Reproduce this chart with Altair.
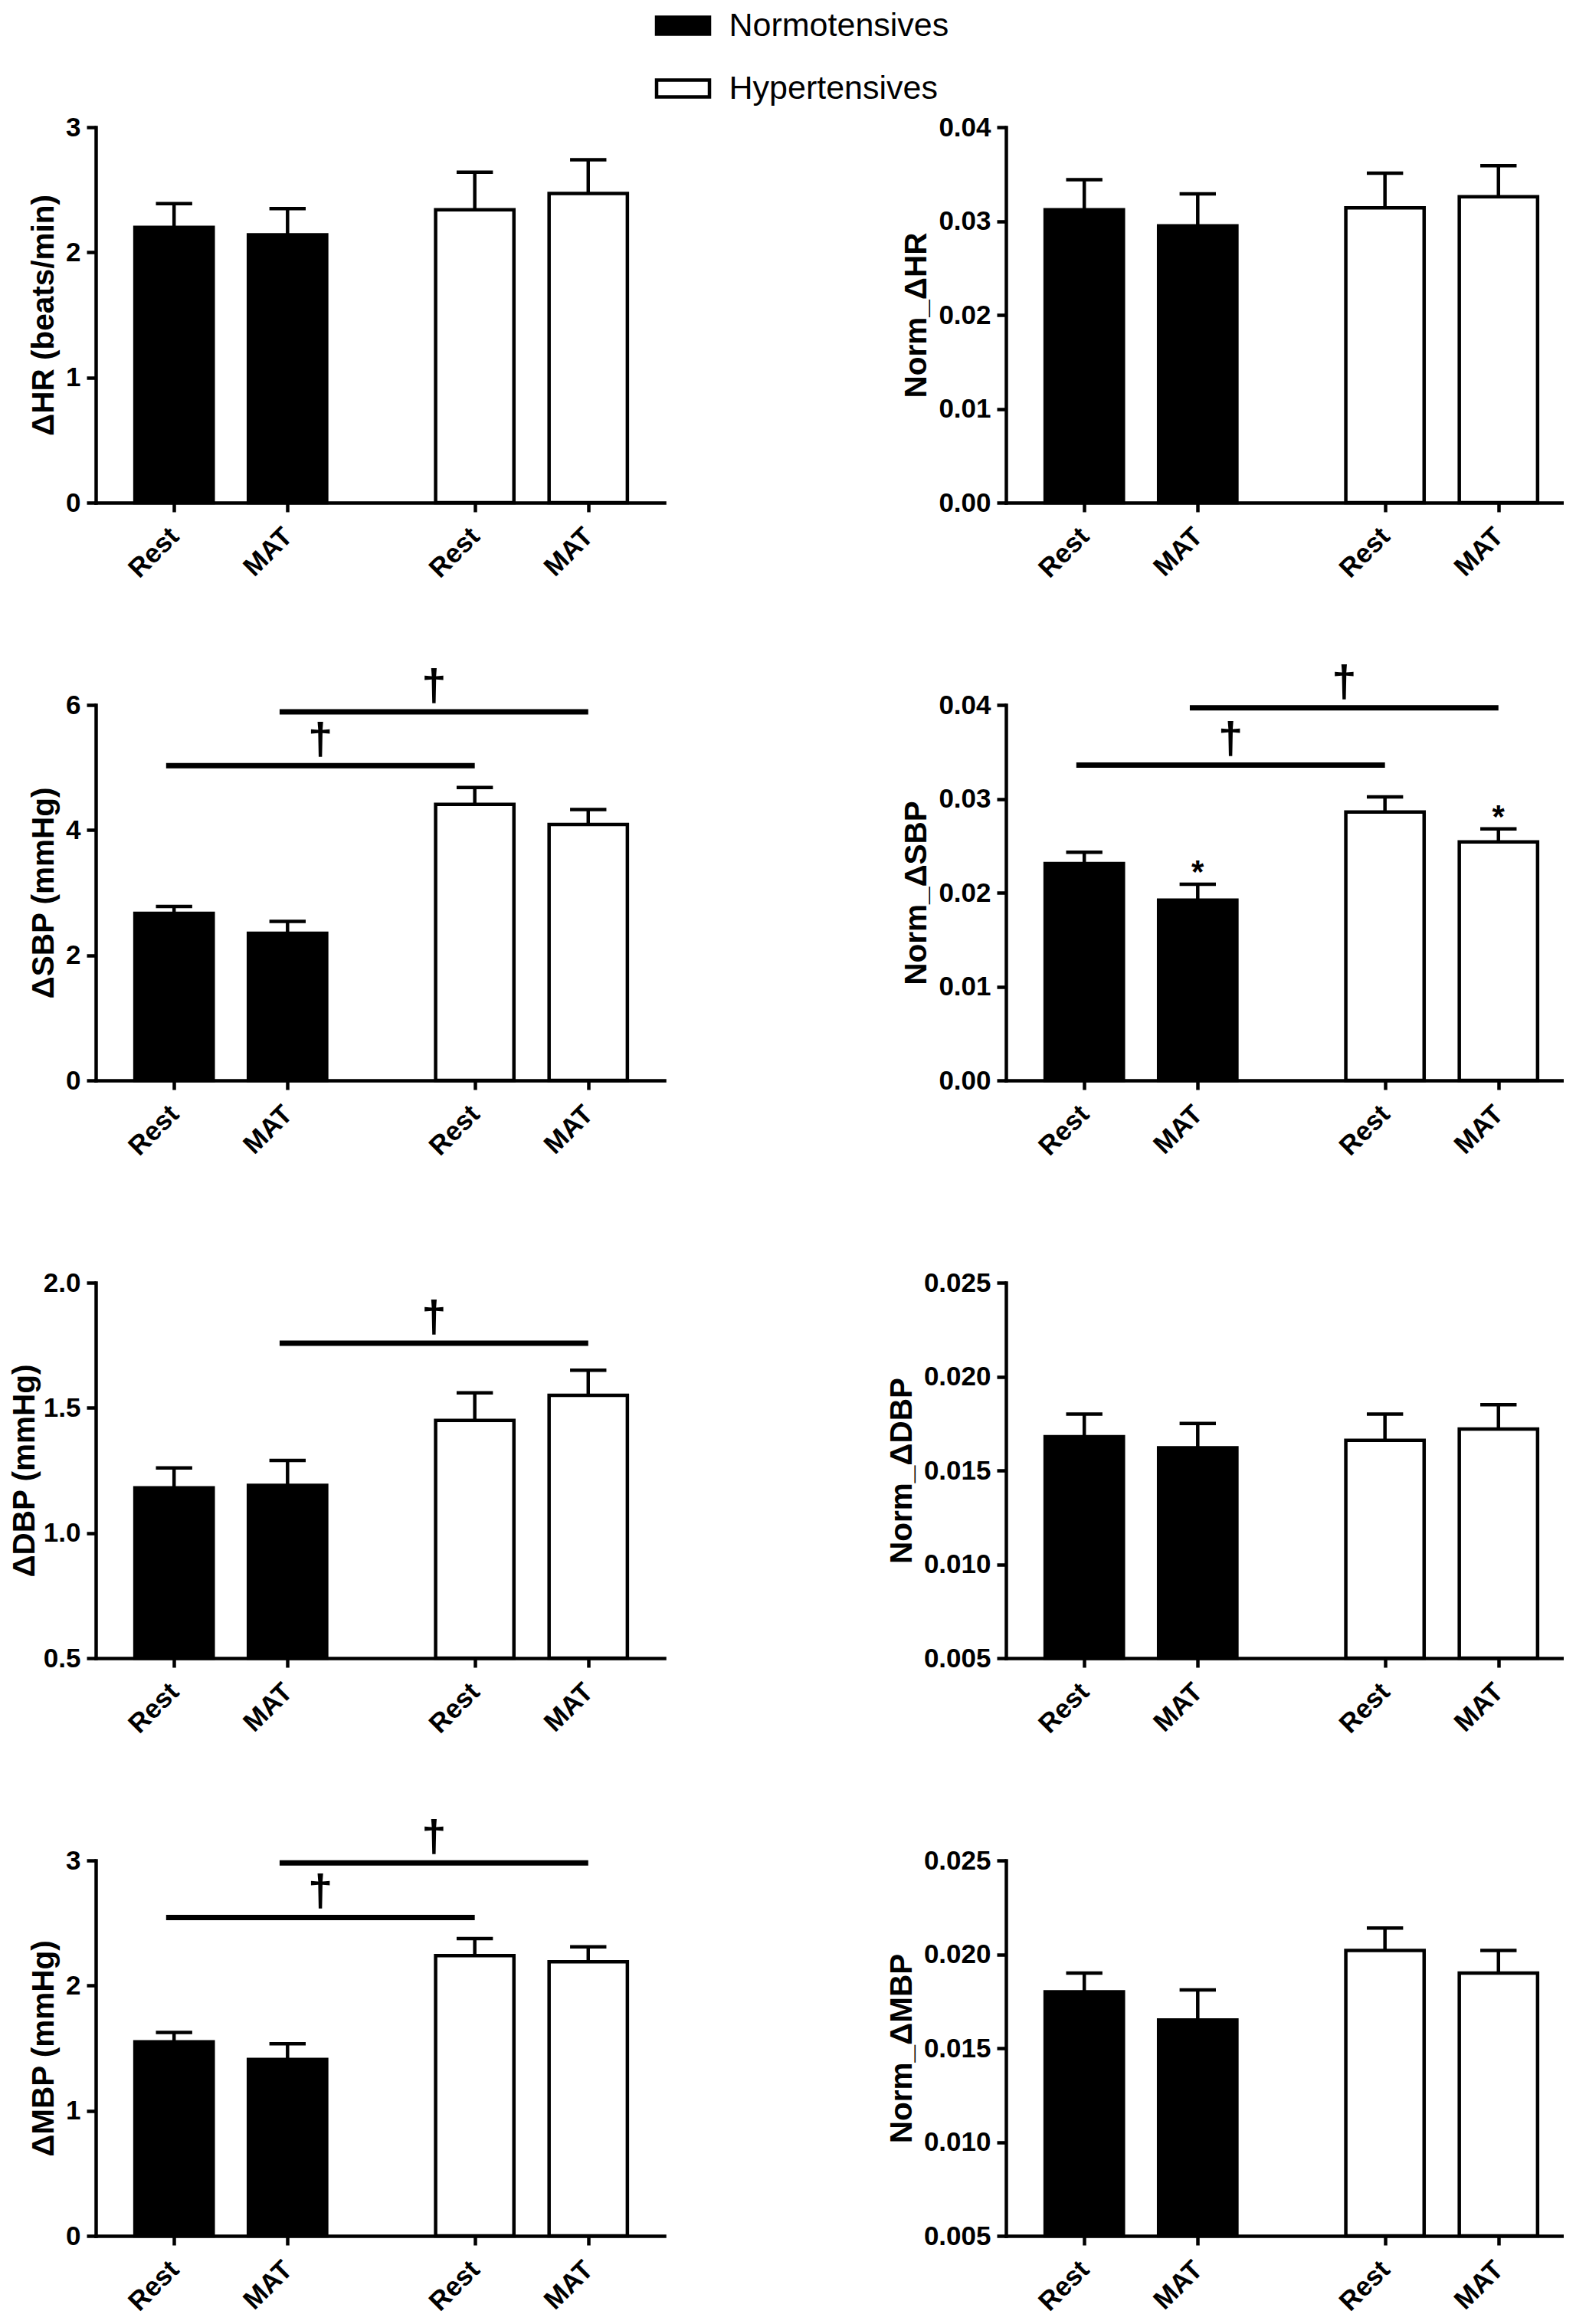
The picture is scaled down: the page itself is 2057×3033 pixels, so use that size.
import altair as alt
import pandas as pd

FONT = "Liberation Sans, Arial, Helvetica, sans-serif"

# ---- data -------------------------------------------------------------
groups = ["Normotensives", "Normotensives", "Hypertensives", "Hypertensives"]
conditions = ["Rest", "MAT", "Rest", "MAT"]

panel_titles = ["ΔHR (beats/min)", "Norm_ΔHR", "ΔSBP (mmHg)", "Norm_ΔSBP",
                "ΔDBP (mmHg)", "Norm_ΔDBP", "ΔMBP (mmHg)", "Norm_ΔMBP"]
y_domains = [[0, 3], [0, 0.04], [0, 6], [0, 0.04],
             [0.5, 2.0], [0.005, 0.025], [0, 3], [0.005, 0.025]]
y_ticks = [[0, 1, 2, 3],
           [0, 0.01, 0.02, 0.03, 0.04],
           [0, 2, 4, 6],
           [0, 0.01, 0.02, 0.03, 0.04],
           [0.5, 1.0, 1.5, 2.0],
           [0.005, 0.010, 0.015, 0.020, 0.025],
           [0, 1, 2, 3],
           [0.005, 0.010, 0.015, 0.020, 0.025]]
y_formats = ["d", ".2f", "d", ".2f", ".1f", ".3f", "d", ".3f"]

means = [
    [2.20, 2.14, 2.34, 2.47],
    [0.0312, 0.0295, 0.0314, 0.0326],
    [2.67, 2.35, 4.41, 4.09],
    [0.0231, 0.0192, 0.0286, 0.0254],
    [1.18, 1.19, 1.45, 1.55],
    [0.0168, 0.0162, 0.0166, 0.0172],
    [1.55, 1.41, 2.24, 2.19],
    [0.0180, 0.0165, 0.0202, 0.0190],
]
sems = [
    [0.19, 0.21, 0.30, 0.27],
    [0.0032, 0.0034, 0.0037, 0.0033],
    [0.11, 0.19, 0.27, 0.24],
    [0.0012, 0.0017, 0.0016, 0.0014],
    [0.08, 0.10, 0.11, 0.10],
    [0.0012, 0.0013, 0.0014, 0.0013],
    [0.075, 0.125, 0.135, 0.12],
    [0.0010, 0.0016, 0.0012, 0.0012],
]

# significance brackets: panel index, from bar, to bar, height
bracket_panel = [2, 2, 3, 3, 4, 6, 6]
bracket_from = [0, 1, 0, 1, 1, 0, 1]
bracket_to = [2, 3, 2, 3, 3, 2, 3]
bracket_y = [5.03, 5.89, 0.0336, 0.0397, 1.758, 2.544, 2.98]

# asterisks: panel index, bar index
star_panel = [3, 3]
star_bar = [1, 3]

# ---- layout helpers (positions of bars along the x axis) ---------------
bar_pos = [0.69, 1.69, 3.34, 4.34]
x_max = 5.01
half_bar = 0.345
half_cap = 0.16
overhang = 0.07
LW = 4.5
title_pad = [7, 7, 7, 7, 3, 7, 7, 7]

label_expr = ("[" + ",".join("'%s'" % c for c in conditions) + "][indexof(["
              + ",".join(str(p) for p in bar_pos) + "], datum.value)]")

fill_scale = alt.Scale(domain=["Normotensives", "Hypertensives"], range=["black", "white"])
legend = alt.Legend(
    title=None, orient="none", legendX=745, legendY=-154, direction="vertical",
    symbolType="M-2.875,-0.917H2.875V0.917H-2.875Z", symbolSize=576,
    symbolStrokeColor="black", symbolStrokeWidth=LW, symbolOpacity=1,
    labelFont=FONT, labelFontSize=43, labelFontWeight="normal", labelColor="black",
    labelOffset=38.5, rowPadding=38, padding=0, labelLimit=0,
)


def make_panel(i):
    lo, hi = y_domains[i]
    df = pd.DataFrame({
        "pos": bar_pos,
        "x1": [p - half_bar for p in bar_pos],
        "x2": [p + half_bar for p in bar_pos],
        "c1": [p - half_cap for p in bar_pos],
        "c2": [p + half_cap for p in bar_pos],
        "group": groups,
        "cond": conditions,
        "mean": means[i],
        "top": [m + s for m, s in zip(means[i], sems[i])],
        "base": [lo] * 4,
    })
    xs = alt.Scale(domain=[0, x_max], nice=False, zero=False)
    ys = alt.Scale(domain=[lo, hi], nice=False, zero=False)
    xaxis = alt.Axis(values=bar_pos, labelExpr=label_expr, title=None, labelOverlap=False)
    yaxis = alt.Axis(values=y_ticks[i], format=y_formats[i], title=panel_titles[i],
                     labelOverlap=False, titlePadding=title_pad[i])
    ttl = panel_titles[i]

    bars = alt.Chart(df).mark_bar(stroke="black", strokeWidth=LW, strokeJoin="miter").encode(
        x=alt.X("x1:Q", scale=xs, axis=xaxis),
        x2="x2:Q",
        y=alt.Y("mean:Q", scale=ys, axis=yaxis),
        y2="base:Q",
        fill=alt.Fill("group:N", scale=fill_scale, legend=legend),
    )
    err = alt.Chart(df).mark_rule(color="black", strokeWidth=LW).encode(
        x=alt.X("pos:Q", scale=xs, title=None),
        y=alt.Y("mean:Q", scale=ys, title=ttl),
        y2="top:Q",
    )
    cap = alt.Chart(df).mark_rule(color="black", strokeWidth=LW).encode(
        x=alt.X("c1:Q", scale=xs, title=None),
        x2="c2:Q",
        y=alt.Y("top:Q", scale=ys, title=ttl),
    )
    layers = [bars, err, cap]

    idx = [k for k, p in enumerate(bracket_panel) if p == i]
    if idx:
        bdf = pd.DataFrame({
            "b1": [bar_pos[bracket_from[k]] - overhang for k in idx],
            "b2": [bar_pos[bracket_to[k]] for k in idx],
            "y": [bracket_y[k] for k in idx],
        })
        bdf["mid"] = (bdf["b1"] + bdf["b2"]) / 2
        layers.append(alt.Chart(bdf).mark_rule(color="black", strokeWidth=7, strokeCap="butt").encode(
            x=alt.X("b1:Q", scale=xs, title=None), x2="b2:Q",
            y=alt.Y("y:Q", scale=ys, title=ttl)))
        layers.append(alt.Chart(bdf).mark_text(
            text="†", font=FONT, fontSize=58, fontWeight="bold", color="black",
            baseline="alphabetic", align="center", dy=-15).encode(
            x=alt.X("mid:Q", scale=xs, title=None),
            y=alt.Y("y:Q", scale=ys, title=ttl)))

    sidx = [k for k, p in enumerate(star_panel) if p == i]
    if sidx:
        sdf = pd.DataFrame({
            "pos": [bar_pos[star_bar[k]] for k in sidx],
            "top": [means[i][star_bar[k]] + sems[i][star_bar[k]] for k in sidx],
        })
        layers.append(alt.Chart(sdf).mark_text(
            text="*", font=FONT, fontSize=42, fontWeight="bold", color="black",
            baseline="alphabetic", align="center", dy=-2).encode(
            x=alt.X("pos:Q", scale=xs, title=None),
            y=alt.Y("top:Q", scale=ys, title=ttl)))

    return alt.layer(*layers).properties(width=742, height=490)


panels = [make_panel(i) for i in range(8)]

chart = alt.concat(
    *panels, columns=2, spacing={"row": 264, "column": 446}, bounds="flush"
).properties(
    padding={"left": 4, "top": 4, "right": -14, "bottom": 0}
).configure_view(
    stroke=None
).configure_axis(
    domainColor="black", domainWidth=LW, domainCap="square",
    tickColor="black", tickWidth=LW, grid=False,
    labelFont=FONT, labelFontWeight="bold", labelColor="black",
    titleFont=FONT, titleFontWeight="bold", titleFontSize=40.5, titleColor="black",
).configure_axisX(
    tickSize=12, labelAngle=315, labelAlign="right", labelBaseline="middle",
    labelPadding=26, labelFontSize=35,
).configure_axisY(
    tickSize=12, labelPadding=8, labelFontSize=35,
)

chart.save("out.html", embed_options={"renderer": "svg", "actions": False})
